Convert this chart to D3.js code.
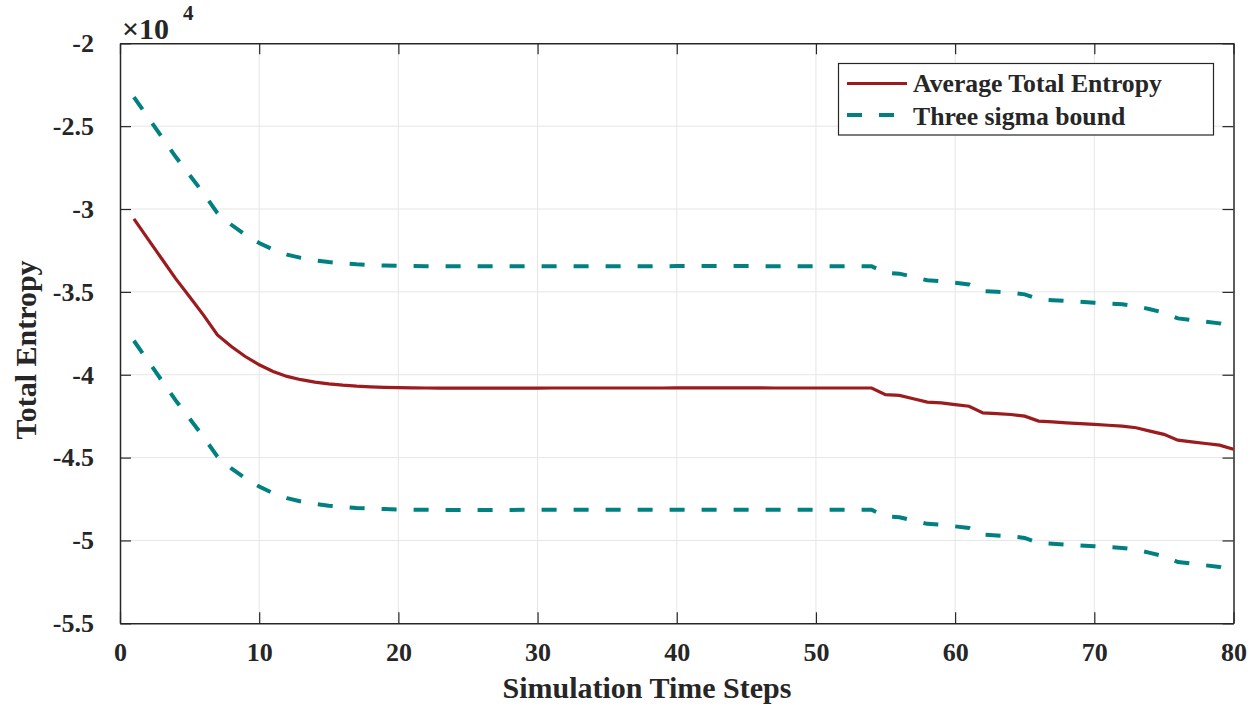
<!DOCTYPE html>
<html>
<head>
<meta charset="utf-8">
<script src="https://cdn.jsdelivr.net/npm/d3@7"></script>
<style>
  body { margin: 0; background: #fff; }
  text { font-family: "Liberation Serif", "Times New Roman", serif; font-weight: bold; fill: #262626; }
</style>
</head>
<body>
<svg id="chart" width="1253" height="708"></svg>
<script>
// time steps 1..80
var steps = d3.range(1, 81);

// average total entropy
var meanEntropy = [
  -30600, -31800, -33000, -34200, -35300, -36400, -37600, -38300, -38900, -39400,
  -39800, -40100, -40300, -40450, -40550, -40630, -40690, -40730, -40760, -40780,
  -40790, -40800, -40805, -40810, -40810, -40810, -40810, -40810, -40805, -40805,
  -40800, -40800, -40800, -40800, -40800, -40800, -40800, -40800, -40800, -40795,
  -40795, -40795, -40795, -40795, -40795, -40795, -40800, -40800, -40800, -40800,
  -40800, -40800, -40800, -40800, -41200, -41250, -41450, -41650, -41700, -41800,
  -41900, -42300, -42350, -42400, -42500, -42800, -42850, -42900, -42950, -43000,
  -43050, -43100, -43200, -43400, -43600, -43950, -44050, -44150, -44250, -44500
];

// upper three sigma bound
var upperBound = [
  -23250, -24450, -25650, -26850, -27950, -29050, -30250, -30950, -31550, -32050,
  -32450, -32750, -32950, -33100, -33200, -33280, -33340, -33380, -33410, -33430,
  -33440, -33450, -33455, -33460, -33460, -33460, -33460, -33460, -33455, -33455,
  -33450, -33450, -33450, -33450, -33450, -33450, -33450, -33450, -33450, -33445,
  -33445, -33445, -33445, -33445, -33445, -33445, -33450, -33450, -33450, -33450,
  -33450, -33450, -33450, -33450, -33850, -33900, -34100, -34300, -34350, -34450,
  -34550, -34950, -35000, -35050, -35150, -35450, -35500, -35550, -35600, -35650,
  -35700, -35750, -35850, -36050, -36250, -36600, -36700, -36800, -36900, -37150
];

// lower three sigma bound
var lowerBound = [
  -37950, -39150, -40350, -41550, -42650, -43750, -44950, -45650, -46250, -46750,
  -47150, -47450, -47650, -47800, -47900, -47980, -48040, -48080, -48110, -48130,
  -48140, -48150, -48155, -48160, -48160, -48160, -48160, -48160, -48155, -48155,
  -48150, -48150, -48150, -48150, -48150, -48150, -48150, -48150, -48150, -48145,
  -48145, -48145, -48145, -48145, -48145, -48145, -48150, -48150, -48150, -48150,
  -48150, -48150, -48150, -48150, -48550, -48600, -48800, -49000, -49050, -49150,
  -49250, -49650, -49700, -49750, -49850, -50150, -50200, -50250, -50300, -50350,
  -50400, -50450, -50550, -50750, -50950, -51300, -51400, -51500, -51600, -51850
];

var xTicks = [0, 10, 20, 30, 40, 50, 60, 70, 80];
var yTicks = [-55000, -50000, -45000, -40000, -35000, -30000, -25000, -20000];

var svg = d3.select("#chart");
var mLeft = 120, mRight = 1233.5, mTop = 43.3, mBottom = 623.3;

var x = d3.scaleLinear().domain([0, 80]).range([mLeft, mRight]);
var y = d3.scaleLinear().domain([-55000, -20000]).range([mBottom, mTop]);

// grid
svg.append("g").selectAll("line").data(xTicks.slice(1, -1)).join("line")
  .attr("x1", d => x(d)).attr("x2", d => x(d))
  .attr("y1", mTop).attr("y2", mBottom)
  .attr("stroke", "#e6e6e6").attr("stroke-width", 1);
svg.append("g").selectAll("line").data(yTicks.slice(1, -1)).join("line")
  .attr("x1", mLeft).attr("x2", mRight)
  .attr("y1", d => y(d)).attr("y2", d => y(d))
  .attr("stroke", "#e6e6e6").attr("stroke-width", 1);

// axes with inward ticks
var tickLen = 11;
var fmt = d => String(d / 1e4); // plain hyphen like the original

var xAxis = svg.append("g").attr("transform", "translate(0," + mBottom + ")")
  .call(d3.axisBottom(x).tickValues(xTicks).tickSizeInner(-tickLen).tickSizeOuter(0).tickPadding(tickLen + 8));
var xTop = svg.append("g").attr("transform", "translate(0," + mTop + ")")
  .call(d3.axisTop(x).tickValues(xTicks).tickSizeInner(-tickLen).tickSizeOuter(0).tickFormat(""));
var yAxis = svg.append("g").attr("transform", "translate(" + mLeft + ",0)")
  .call(d3.axisLeft(y).tickValues(yTicks).tickSizeInner(-tickLen).tickSizeOuter(0).tickPadding(tickLen + 15).tickFormat(fmt));
var yRight = svg.append("g").attr("transform", "translate(" + mRight + ",0)")
  .call(d3.axisRight(y).tickValues(yTicks).tickSizeInner(-tickLen).tickSizeOuter(0).tickFormat(""));

[xAxis, xTop, yAxis, yRight].forEach(function (g) {
  g.attr("font-size", null).attr("font-family", null);
  g.select(".domain").attr("stroke", "#262626").attr("stroke-width", 1.5);
  g.selectAll(".tick line").attr("stroke", "#262626").attr("stroke-width", 1.2);
  g.selectAll(".tick text")
    .style("font-family", '"Liberation Serif", serif')
    .style("font-weight", "bold").style("font-size", "26px").attr("fill", "#262626");
});

// lines
var line = d3.line().x((d, i) => x(steps[i])).y(d => y(d));

svg.append("path").datum(upperBound).attr("d", line)
  .attr("fill", "none").attr("stroke", "#008080").attr("stroke-width", 4)
  .attr("stroke-dasharray", "15,17");
svg.append("path").datum(lowerBound).attr("d", line)
  .attr("fill", "none").attr("stroke", "#008080").attr("stroke-width", 4)
  .attr("stroke-dasharray", "15,17");
svg.append("path").datum(meanEntropy).attr("d", line)
  .attr("fill", "none").attr("stroke", "#9b1b1e").attr("stroke-width", 3.2);

// exponent label
svg.append("text").attr("x", 122).attr("y", 39).style("font-size", "30px").text("\u00d710");
svg.append("text").attr("x", 183).attr("y", 20).style("font-size", "21px").text("4");

// axis titles
svg.append("text").attr("x", 647).attr("y", 698)
  .attr("text-anchor", "middle").style("font-size", "30px").text("Simulation Time Steps");
svg.append("text").attr("transform", "translate(36,350) rotate(-90)")
  .attr("text-anchor", "middle").style("font-size", "30px").text("Total Entropy");

// legend
var lg = svg.append("g");
lg.append("rect").attr("x", 838.5).attr("y", 63.5).attr("width", 375).attr("height", 71.5)
  .attr("fill", "#fff").attr("stroke", "#262626").attr("stroke-width", 1.2);
lg.append("line").attr("x1", 847).attr("x2", 907).attr("y1", 83.5).attr("y2", 83.5)
  .attr("stroke", "#9b1b1e").attr("stroke-width", 3.2);
lg.append("line").attr("x1", 847).attr("x2", 907).attr("y1", 115).attr("y2", 115)
  .attr("stroke", "#008080").attr("stroke-width", 4).attr("stroke-dasharray", "15,17");
lg.append("text").attr("x", 913).attr("y", 92).style("font-size", "25.7px").attr("fill", "#000").text("Average Total Entropy");
lg.append("text").attr("x", 913).attr("y", 125).style("font-size", "25.7px").attr("fill", "#000").text("Three sigma bound");
</script>
</body>
</html>
